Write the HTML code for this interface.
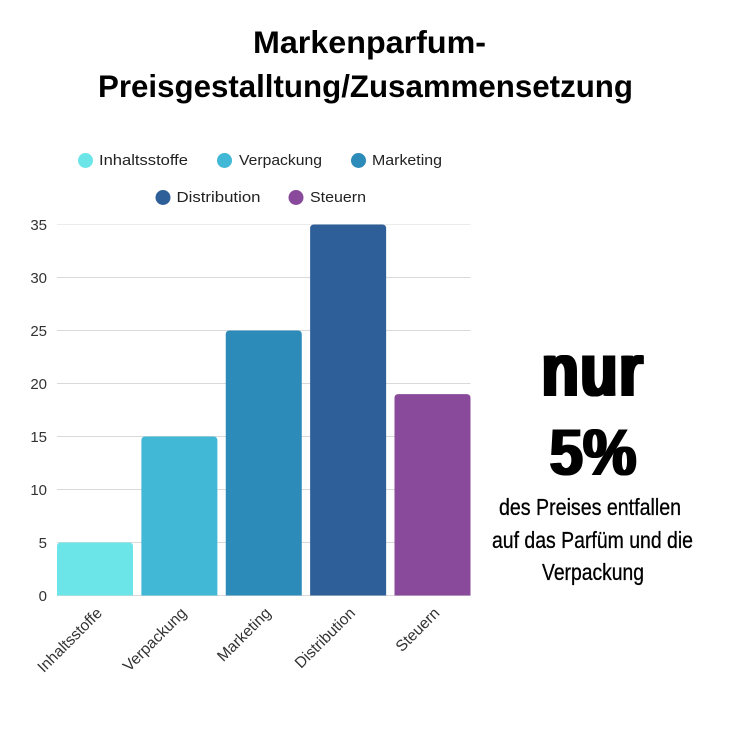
<!DOCTYPE html>
<html lang="de">
<head>
<meta charset="utf-8">
<title>Markenparfum-Preisgestalltung</title>
<style>
html,body{margin:0;padding:0;background:#fff;width:737px;height:737px;overflow:hidden}
body{position:relative}
svg{display:block}
text{font-family:"Liberation Sans",sans-serif}
.big{position:absolute;left:493px;width:200px;text-align:center;line-height:1;font-family:"Liberation Sans",sans-serif;font-weight:700;color:#000;transform-origin:50% 50%;white-space:nowrap}
#nur{top:333px;font-size:76px;letter-spacing:2px;transform:scaleX(.8);text-shadow:2.5px 0 0 #000,-2.5px 0 0 #000,1.2px 0 0 #000,-1.2px 0 0 #000}
#pct{top:419px;font-size:66px;transform:scaleX(.91);text-shadow:1.6px 0 0 #000,-1.6px 0 0 #000}
</style>
</head>
<body>
<svg id="chart" width="737" height="737" viewBox="0 0 737 737" xmlns="http://www.w3.org/2000/svg">
  <rect width="737" height="737" fill="#fff"/>
  <text x="369.5" y="53" text-anchor="middle" font-size="31.5" font-weight="700" fill="#000" textLength="233" lengthAdjust="spacingAndGlyphs">Markenparfum-</text>
  <text x="365.5" y="97" text-anchor="middle" font-size="31.5" font-weight="700" fill="#000" textLength="535" lengthAdjust="spacingAndGlyphs">Preisgestalltung/Zusammensetzung</text>

  <g>
    <g><circle cx="85.5" cy="160.5" r="7.5" fill="#6ce5e8"/><text x="99" y="165" font-size="14.5" fill="#222" textLength="89" lengthAdjust="spacingAndGlyphs">Inhaltsstoffe</text></g>
    <g><circle cx="224.5" cy="160.5" r="7.5" fill="#41b8d5"/><text x="239" y="165" font-size="14.5" fill="#222" textLength="83" lengthAdjust="spacingAndGlyphs">Verpackung</text></g>
    <g><circle cx="358.5" cy="160.5" r="7.5" fill="#2d8bba"/><text x="372" y="165" font-size="14.5" fill="#222" textLength="70" lengthAdjust="spacingAndGlyphs">Marketing</text></g>
    <g><circle cx="163" cy="197.5" r="7.5" fill="#2f5f98"/><text x="176.5" y="202" font-size="14.5" fill="#222" textLength="84" lengthAdjust="spacingAndGlyphs">Distribution</text></g>
    <g><circle cx="296" cy="197.5" r="7.5" fill="#8a4a9b"/><text x="310" y="202" font-size="14.5" fill="#222" textLength="56" lengthAdjust="spacingAndGlyphs">Steuern</text></g>
  </g>

  <g id="grid"></g>
  <g id="yticks"></g>
  <g id="bars"></g>
  <g id="xticks"></g>

  <g fill="#000">
    <text x="590" y="515" text-anchor="middle" font-size="23" stroke="#000" stroke-width="0.3" stroke-linejoin="round" textLength="182" lengthAdjust="spacingAndGlyphs">des Preises entfallen</text>
    <text x="592.5" y="548" text-anchor="middle" font-size="23" stroke="#000" stroke-width="0.3" stroke-linejoin="round" textLength="201" lengthAdjust="spacingAndGlyphs">auf das Parfüm und die</text>
    <text x="593" y="580" text-anchor="middle" font-size="23" stroke="#000" stroke-width="0.3" stroke-linejoin="round" textLength="102" lengthAdjust="spacingAndGlyphs">Verpackung</text>
  </g>
</svg>
<div id="nur" class="big">nur</div>
<div id="pct" class="big">5%</div>
<script>
const categories = ["Inhaltsstoffe", "Verpackung", "Marketing", "Distribution", "Steuern"];
const shares = [5, 15, 25, 35, 19];
const yTickLabels = [0, 5, 10, 15, 20, 25, 30, 35];

const barColors = ["#6ce5e8", "#41b8d5", "#2d8bba", "#2f5f98", "#8a4a9b"];
const NS = "http://www.w3.org/2000/svg";
const plot = { left: 57, right: 470.5, top: 224.5, bottom: 595.5, max: 35 };

function yScale(v) {
  return plot.bottom - (v / plot.max) * (plot.bottom - plot.top);
}
function barWidth() {
  return (plot.right - plot.left) / (categories.length + (categories.length - 1) * 0.11);
}
function xCenter(i) {
  const w = barWidth();
  const gap = (plot.right - plot.left - w * categories.length) / (categories.length - 1);
  return plot.left + w / 2 + i * (w + gap);
}
function make(tag, attrs) {
  const el = document.createElementNS(NS, tag);
  for (const k in attrs) el.setAttribute(k, attrs[k]);
  return el;
}
const gridG = document.getElementById("grid");
const yG = document.getElementById("yticks");
const barsG = document.getElementById("bars");
const xG = document.getElementById("xticks");

yTickLabels.forEach(function (t) {
  const y = yScale(t);
  const line = make("line", {
    x1: plot.left, x2: plot.right, y1: y, y2: y,
    stroke: t === plot.max ? "#ececec" : "#d9d9d9", "stroke-width": 1
  });
  
  
  gridG.appendChild(line);

  const label = make("text", {
    x: 47, y: y + 5.5, "text-anchor": "end", "font-size": 15, fill: "#333"
  });
  label.textContent = t;
  
  
  yG.appendChild(label);
});

categories.forEach(function (c, i) {
  const w = barWidth();
  const cx = xCenter(i);
  const top = yScale(shares[i]);
  const r = 4;
  const x0 = cx - w / 2;
  const x1 = cx + w / 2;
  const bar = make("path", {
    d: "M" + x0 + " " + plot.bottom + "V" + (top + r) + "Q" + x0 + " " + top + " " + (x0 + r) + " " + top +
       "H" + (x1 - r) + "Q" + x1 + " " + top + " " + x1 + " " + (top + r) + "V" + plot.bottom + "Z",
    fill: barColors[i]
  });
  
  
  barsG.appendChild(bar);

  const lx = cx + 8;
  const ly = 614;
  const label = make("text", {
    x: lx, y: ly, "text-anchor": "end", "font-size": 15.6, fill: "#333",
    transform: "rotate(-45 " + lx + " " + ly + ")"
  });
  label.textContent = c;
  
  
  xG.appendChild(label);
});
</script>
</body>
</html>
